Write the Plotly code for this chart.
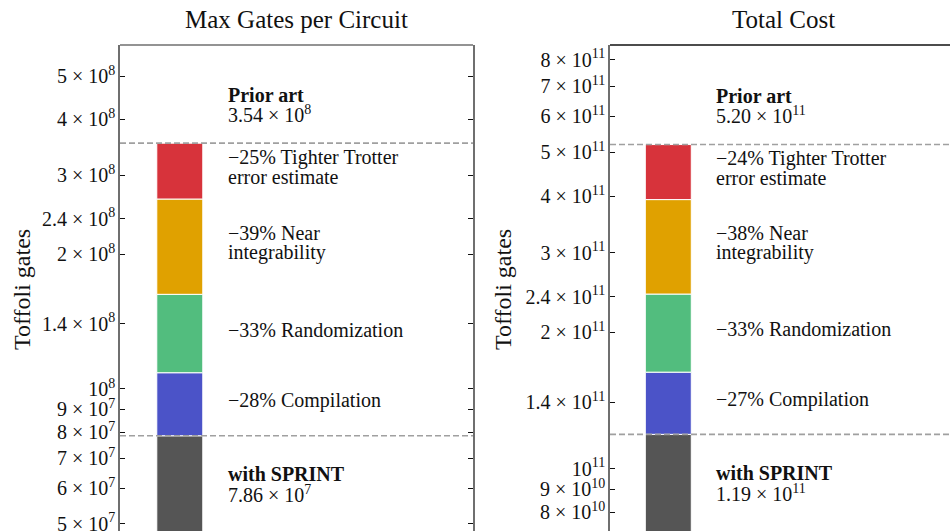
import math
import plotly.graph_objects as go

W, H = 950, 531
FONT = "Liberation Serif"

# Cumulative Toffoli counts after each optimisation stage (SPRINT -> prior art)
gates_levels = [7.86e7, 1.087e8, 1.627e8, 2.656e8, 3.54e8]
cost_levels = [1.19e11, 1.633e11, 2.43e11, 3.93e11, 5.20e11]

# Reduction attributed to each stage, bottom to top
gates_pct = [28, 33, 39, 25]
cost_pct = [27, 33, 38, 24]
stage_lines = [
    ["Compilation"],
    ["Randomization"],
    ["Near", "integrability"],
    ["Tighter Trotter", "error estimate"],
]
stage_colors = ["#4b53c8", "#52bd7e", "#e0a100", "#d7333b"]
sprint_color = "#555555"

gates_ticks = [5e7, 6e7, 7e7, 8e7, 9e7, 1e8, 1.4e8, 2e8, 2.4e8, 3e8, 4e8, 5e8]
cost_ticks = [8e10, 9e10, 1e11, 1.4e11, 2e11, 2.4e11, 3e11, 4e11, 5e11, 6e11, 7e11, 8e11]

titles = ["Max Gates per Circuit", "Total Cost"]


def sci(v, decimals=None):
    e = int(math.floor(math.log10(v) + 1e-9))
    m = v / 10 ** e
    if decimals is not None:
        return f"{m:.{decimals}f} × 10<sup>{e}</sup>"
    if abs(m - 1) < 1e-9:
        return f"10<sup>{e}</sup>"
    return f"{m:g} × 10<sup>{e}</sup>"


panels = [
    dict(levels=gates_levels, pct=gates_pct, ticks=gates_ticks, title=titles[0],
         xd=[120 / W, 473 / W], xr=[-1.04, 5.10], yr=[7.6827, 8.7683],
         frame="#6f6f6f", top="#6f6f6f", mirror="ticks", ylab_x=22 / W,
         title_x=296.5 / W),
    dict(levels=cost_levels, pct=cost_pct, ticks=cost_ticks, title=titles[1],
         xd=[610 / W, 1.0], xr=[-1.014, 4.90], yr=[10.862, 11.936],
         frame="#6f6f6f", top="#111111", mirror=False, ylab_x=503 / W,
         title_x=783 / W),
]

y_top = 1 - 45 / H
fig = go.Figure()
annotations = []
shapes = []
text_x = 0.8
line_gap = 19.5
label_font = dict(family=FONT, size=20, color="#111")

for i, p in enumerate(panels):
    sfx = "" if i == 0 else str(i + 1)
    xa, ya = "x" + sfx, "y" + sfx
    lv = p["levels"]
    floor = 10 ** p["yr"][0] / 2

    # SPRINT bar from the axis floor, then the stage segments stacked above it
    fig.add_trace(go.Bar(x=[0], base=[floor], y=[lv[0] - floor], width=0.8,
                         marker=dict(color=sprint_color, line=dict(color="white", width=1)),
                         xaxis=xa, yaxis=ya, showlegend=False, hoverinfo="skip"))
    for k in range(4):
        lo, hi = lv[k], lv[k + 1]
        fig.add_trace(go.Bar(x=[0], base=[lo], y=[hi - lo], width=0.8,
                             marker=dict(color=stage_colors[k], line=dict(color="white", width=1)),
                             xaxis=xa, yaxis=ya, showlegend=False, hoverinfo="skip"))
        lines = list(stage_lines[k])
        lines[0] = f"−{p['pct'][k]}% " + lines[0]
        yc = 0.5 * (math.log10(lo) + math.log10(hi))
        n = len(lines)
        for j, t in enumerate(lines):
            annotations.append(dict(x=text_x, y=yc, xref=xa, yref=ya, text=t, showarrow=False,
                                    xanchor="left", yanchor="middle",
                                    yshift=4 + ((n - 1) / 2 - j) * line_gap,
                                    font=label_font))

    # Prior-art and SPRINT labels
    for txt_lines, yc in [
        (["<b>Prior art</b>", sci(lv[-1], 2)], math.log10(lv[-1] * 1.22)),
        (["<b>with SPRINT</b>", sci(lv[0], 2)], math.log10(lv[0] * 0.78)),
    ]:
        for j, t in enumerate(txt_lines):
            annotations.append(dict(x=text_x, y=yc, xref=xa, yref=ya, text=t, showarrow=False,
                                    xanchor="left", yanchor="middle",
                                    yshift=((len(txt_lines) - 1) / 2 - j) * line_gap,
                                    font=label_font))

    # dashed reference levels
    for v in (lv[0], lv[-1]):
        shapes.append(dict(type="line", xref=xa + " domain", yref=ya, x0=0, x1=1,
                           y0=v, y1=v, line=dict(color="#a0a0a0", width=1.6, dash="6px,3px"),
                           layer="above"))
    # top frame line
    shapes.append(dict(type="line", xref=xa + " domain", yref=ya + " domain", x0=0, x1=1,
                       y0=1, y1=1, line=dict(color=p["top"], width=1.6), layer="above"))

    # title and y label
    annotations.append(dict(x=p["title_x"], y=1 - 20 / H,
                            xref="paper", yref="paper", text=p["title"], showarrow=False,
                            xanchor="center", yanchor="middle",
                            font=dict(family=FONT, size=25, color="#111")))
    annotations.append(dict(x=p["ylab_x"], y=1 - 290 / H, xref="paper", yref="paper",
                            text="Toffoli gates", textangle=-90, showarrow=False,
                            xanchor="center", yanchor="middle",
                            font=dict(family=FONT, size=24, color="#111")))

    fig.update_layout({
        "xaxis" + sfx: dict(domain=p["xd"], range=p["xr"], visible=False, fixedrange=True,
                            anchor=ya),
        "yaxis" + sfx: dict(domain=[0, y_top], type="log", range=p["yr"], anchor=xa,
                            tickvals=p["ticks"], ticktext=[sci(v) for v in p["ticks"]],
                            ticks="inside", ticklen=5, tickwidth=1.3, tickcolor="#111",
                            showline=True, linecolor=p["frame"], linewidth=1.6,
                            mirror=p["mirror"], showgrid=False, zeroline=False,
                            automargin=False, ticklabelstandoff=-1,
                            ticklabeloverflow="allow",
                            tickfont=dict(family=FONT, size=20, color="#111")),
    })

fig.update_layout(
    width=W, height=H, margin=dict(l=0, r=0, t=0, b=0),
    paper_bgcolor="white", plot_bgcolor="white", barmode="overlay",
    annotations=annotations, shapes=shapes, showlegend=False,
)

fig.write_html("out.html")
